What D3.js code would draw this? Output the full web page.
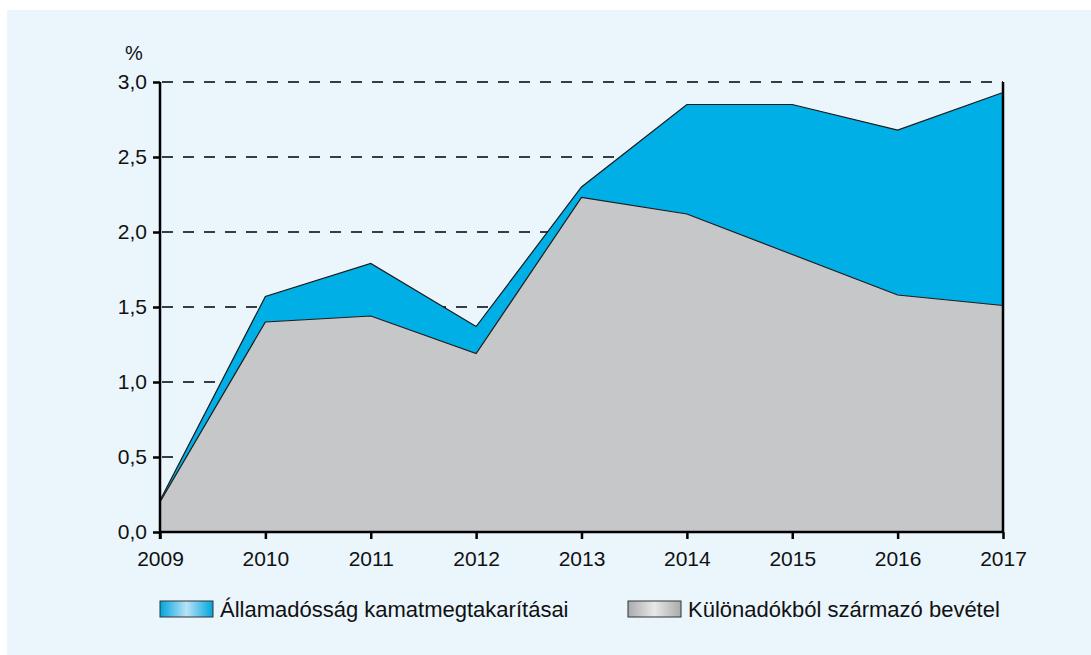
<!DOCTYPE html>
<html>
<head>
<meta charset="utf-8">
<script src="https://cdn.jsdelivr.net/npm/d3@7"></script>
<style>
  html, body { margin: 0; padding: 0; background: #fff; }
  svg { display: block; font-family: "Liberation Sans", Arial, sans-serif; }
</style>
</head>
<body>
<svg id="chart" width="1091" height="655"></svg>
<script>
// Data (percent)
const years = [2009, 2010, 2011, 2012, 2013, 2014, 2015, 2016, 2017];
const specialTaxes = [0.20, 1.40, 1.44, 1.19, 2.23, 2.12, 1.85, 1.58, 1.51];
const interestSavings = [0.01, 0.17, 0.35, 0.18, 0.07, 0.73, 1.00, 1.10, 1.42];
const yTicks = [0, 0.5, 1.0, 1.5, 2.0, 2.5, 3.0];
const seriesNames = ['Államadósság kamatmegtakarításai', 'Különadókból származó bevétel'];

const svg = d3.select('#chart');
const margin = {top: 82, left: 160, right: 88, bottom: 123};
const W = +svg.attr('width'), H = +svg.attr('height');
const FS = 21;

// panel background
svg.append('rect').attr('x', 7).attr('y', 10).attr('width', W - 7).attr('height', H - 10).attr('fill', '#eaf5fc');

const x = d3.scaleLinear().domain([2009, 2017]).range([margin.left, W - margin.right]);
const y = d3.scaleLinear().domain([0, 3]).range([H - margin.bottom, margin.top]);

// gradients for legend swatches
const defs = svg.append('defs');
function grad(id, edge, mid) {
  const g = defs.append('linearGradient').attr('id', id).attr('x1', 0).attr('x2', 1);
  g.append('stop').attr('offset', '0%').attr('stop-color', edge);
  g.append('stop').attr('offset', '50%').attr('stop-color', mid);
  g.append('stop').attr('offset', '100%').attr('stop-color', edge);
}
grad('gBlue', '#00a6dc', '#b8e2f6');
grad('gGray', '#a9aaac', '#e8e8e8');

// dashed grid
svg.append('g').selectAll('line')
  .data(yTicks.filter(d => d > 0))
  .enter().append('line')
  .attr('x1', margin.left + 2).attr('x2', W - margin.right)
  .attr('y1', d => y(d)).attr('y2', d => y(d))
  .attr('stroke', '#000').attr('stroke-width', 1.3)
  .attr('stroke-dasharray', '11,10');

const stacked = years.map((yr, i) => ({yr, a: specialTaxes[i], b: specialTaxes[i] + interestSavings[i]}));

// blue (interest savings) stacked on top of grey
svg.append('path').datum(stacked)
  .attr('fill', '#00afe5')
  .attr('d', d3.area().x(d => x(d.yr)).y0(d => y(d.a)).y1(d => y(d.b)));
svg.append('path').datum(stacked)
  .attr('fill', 'none').attr('stroke', '#1a1a1a').attr('stroke-width', 1.2)
  .attr('d', d3.line().x(d => x(d.yr)).y(d => y(d.b)));

// grey (special taxes)
svg.append('path').datum(stacked)
  .attr('fill', '#c6c7c9')
  .attr('d', d3.area().x(d => x(d.yr)).y0(y(0)).y1(d => y(d.a)));
svg.append('path').datum(stacked)
  .attr('fill', 'none').attr('stroke', '#1a1a1a').attr('stroke-width', 1.2)
  .attr('d', d3.line().x(d => x(d.yr)).y(d => y(d.a)));

// axes
const yAxis = svg.append('g').attr('transform', `translate(${margin.left},0)`)
  .call(d3.axisLeft(y).tickValues(yTicks).tickSize(7).tickPadding(6).tickFormat(d => d3.format('.1f')(d).replace('.', ',')));
const xAxis = svg.append('g').attr('transform', `translate(0,${y(0)})`)
  .call(d3.axisBottom(x).tickValues(years).tickSize(7).tickPadding(12).tickFormat(d3.format('d')));
[yAxis, xAxis].forEach(a => {
  a.select('.domain').remove();
  a.selectAll('line').attr('stroke', '#000').attr('stroke-width', 2.5);
  a.selectAll('text').attr('font-size', FS).attr('fill', '#111').attr('font-family', '"Liberation Sans", Arial, sans-serif');
});
// axis lines
svg.append('line').attr('x1', margin.left).attr('x2', margin.left).attr('y1', y(3)).attr('y2', y(0) + 7).attr('stroke', '#000').attr('stroke-width', 2.5);
svg.append('line').attr('x1', W - margin.right).attr('x2', W - margin.right).attr('y1', y(3)).attr('y2', y(0)).attr('stroke', '#000').attr('stroke-width', 2.5);
svg.append('line').attr('x1', margin.left).attr('x2', W - margin.right).attr('y1', y(0)).attr('y2', y(0)).attr('stroke', '#000').attr('stroke-width', 2.5);

// unit label
svg.append('text').attr('x', 134).attr('y', 60).attr('text-anchor', 'middle')
  .attr('font-size', 20).attr('fill', '#111').text('%');

// legend
const legend = [
  {name: seriesNames[0], fill: 'url(#gBlue)', x: 160},
  {name: seriesNames[1], fill: 'url(#gGray)', x: 628}
];
legend.forEach(l => {
  svg.append('rect').attr('x', l.x).attr('y', 601).attr('width', 53).attr('height', 16)
    .attr('fill', l.fill).attr('stroke', '#333').attr('stroke-width', 1);
  svg.append('text').attr('x', l.x + 60).attr('y', 617).attr('font-size', 22).attr('fill', '#111').text(l.name);
});
</script>
</body>
</html>
